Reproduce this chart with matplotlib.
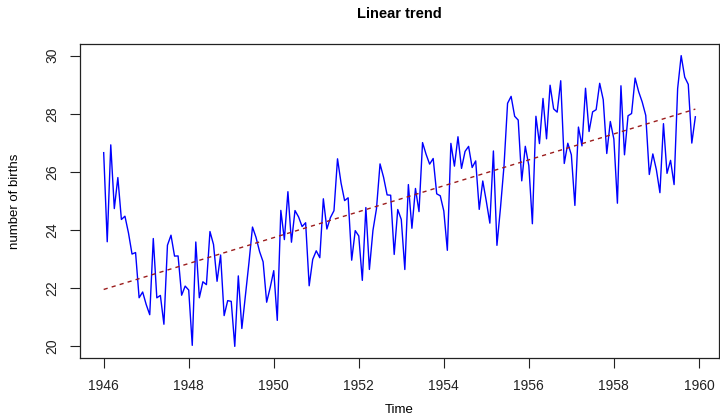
import numpy as np
import matplotlib
matplotlib.use("Agg")
import matplotlib.pyplot as plt

plt.rcParams['font.family'] = ['Liberation Sans', 'DejaVu Sans']

start_year = 1946
births = [
    26.663, 23.598, 26.931, 24.740, 25.806, 24.364, 24.477, 23.901, 23.175, 23.227, 21.672, 21.870,
    21.439, 21.089, 23.709, 21.669, 21.752, 20.761, 23.479, 23.824, 23.105, 23.110, 21.759, 22.073,
    21.937, 20.035, 23.590, 21.672, 22.222, 22.123, 23.950, 23.504, 22.238, 23.142, 21.059, 21.573,
    21.548, 20.000, 22.424, 20.615, 21.761, 22.874, 24.104, 23.748, 23.262, 22.907, 21.519, 22.025,
    22.604, 20.894, 24.677, 23.673, 25.320, 23.583, 24.671, 24.454, 24.122, 24.252, 22.084, 22.991,
    23.287, 23.049, 25.076, 24.037, 24.430, 24.667, 26.451, 25.618, 25.014, 25.110, 22.964, 23.981,
    23.798, 22.270, 24.775, 22.646, 23.988, 24.737, 26.276, 25.816, 25.210, 25.199, 23.162, 24.707,
    24.364, 22.644, 25.565, 24.062, 25.431, 24.635, 27.009, 26.606, 26.268, 26.462, 25.246, 25.180,
    24.657, 23.304, 26.982, 26.199, 27.210, 26.122, 26.706, 26.878, 26.152, 26.379, 24.712, 25.688,
    24.990, 24.239, 26.721, 23.475, 24.767, 26.219, 28.361, 28.599, 27.914, 27.784, 25.693, 26.881,
    26.217, 24.218, 27.914, 26.975, 28.527, 27.139, 28.982, 28.169, 28.056, 29.136, 26.291, 26.987,
    26.589, 24.848, 27.543, 26.896, 28.878, 27.390, 28.065, 28.141, 29.048, 28.484, 26.634, 27.735,
    27.132, 24.924, 28.963, 26.589, 27.931, 28.009, 29.229, 28.759, 28.405, 27.945, 25.912, 26.619,
    26.076, 25.286, 27.660, 25.951, 26.398, 25.565, 28.865, 30.000, 29.261, 29.012, 26.992, 27.897,
]
x_ticks = [1946, 1948, 1950, 1952, 1954, 1956, 1958, 1960]
y_ticks = [20, 22, 24, 26, 28, 30]

y = np.array(births)
t = start_year + np.arange(len(y)) / 12.0
coef = np.polyfit(t, y, 1)
trend = np.polyval(coef, t)

W, H = 720, 418
fig = plt.figure(figsize=(W / 100, H / 100), dpi=100)
L, R, T, B = 80, 719, 44, 358
ax = fig.add_axes([L / W, (H - B) / H, (R - L) / W, (B - T) / H])

ax.plot(t, y, color='#0000FF', lw=1.0)
ax.plot(t, trend, color='#9B1C1C', lw=1.0, ls=(0, (3, 3)))

ax.set_xlim(1945.443, 1960.473)
ax.set_ylim(19.6, 30.4)
ax.set_xticks(x_ticks)
ax.set_yticks(y_ticks)
ax.set_xticklabels([str(v) for v in x_ticks], fontsize=10)
ax.set_yticklabels([str(v) for v in y_ticks], fontsize=10, rotation=90, va='center')
ax.tick_params(direction='out', length=7, width=0.8, pad=8, colors='#222222')
for s in ax.spines.values():
    s.set_linewidth(0.9)
    s.set_color('#222222')

fig.text(0.5 * (L + R) / W, 1 - 14 / H, 'Linear trend', ha='center', va='center',
         fontsize=10.5, fontweight='bold')
fig.text(0.5 * (L + R) / W, 1 - 410 / H, 'Time', ha='center', va='center', fontsize=9.5)
fig.text(15 / W, 1 - 0.5 * (T + B) / H, 'number of births', ha='center', va='center',
         rotation=90, fontsize=9.5)

fig.savefig('out.png', dpi=100)
